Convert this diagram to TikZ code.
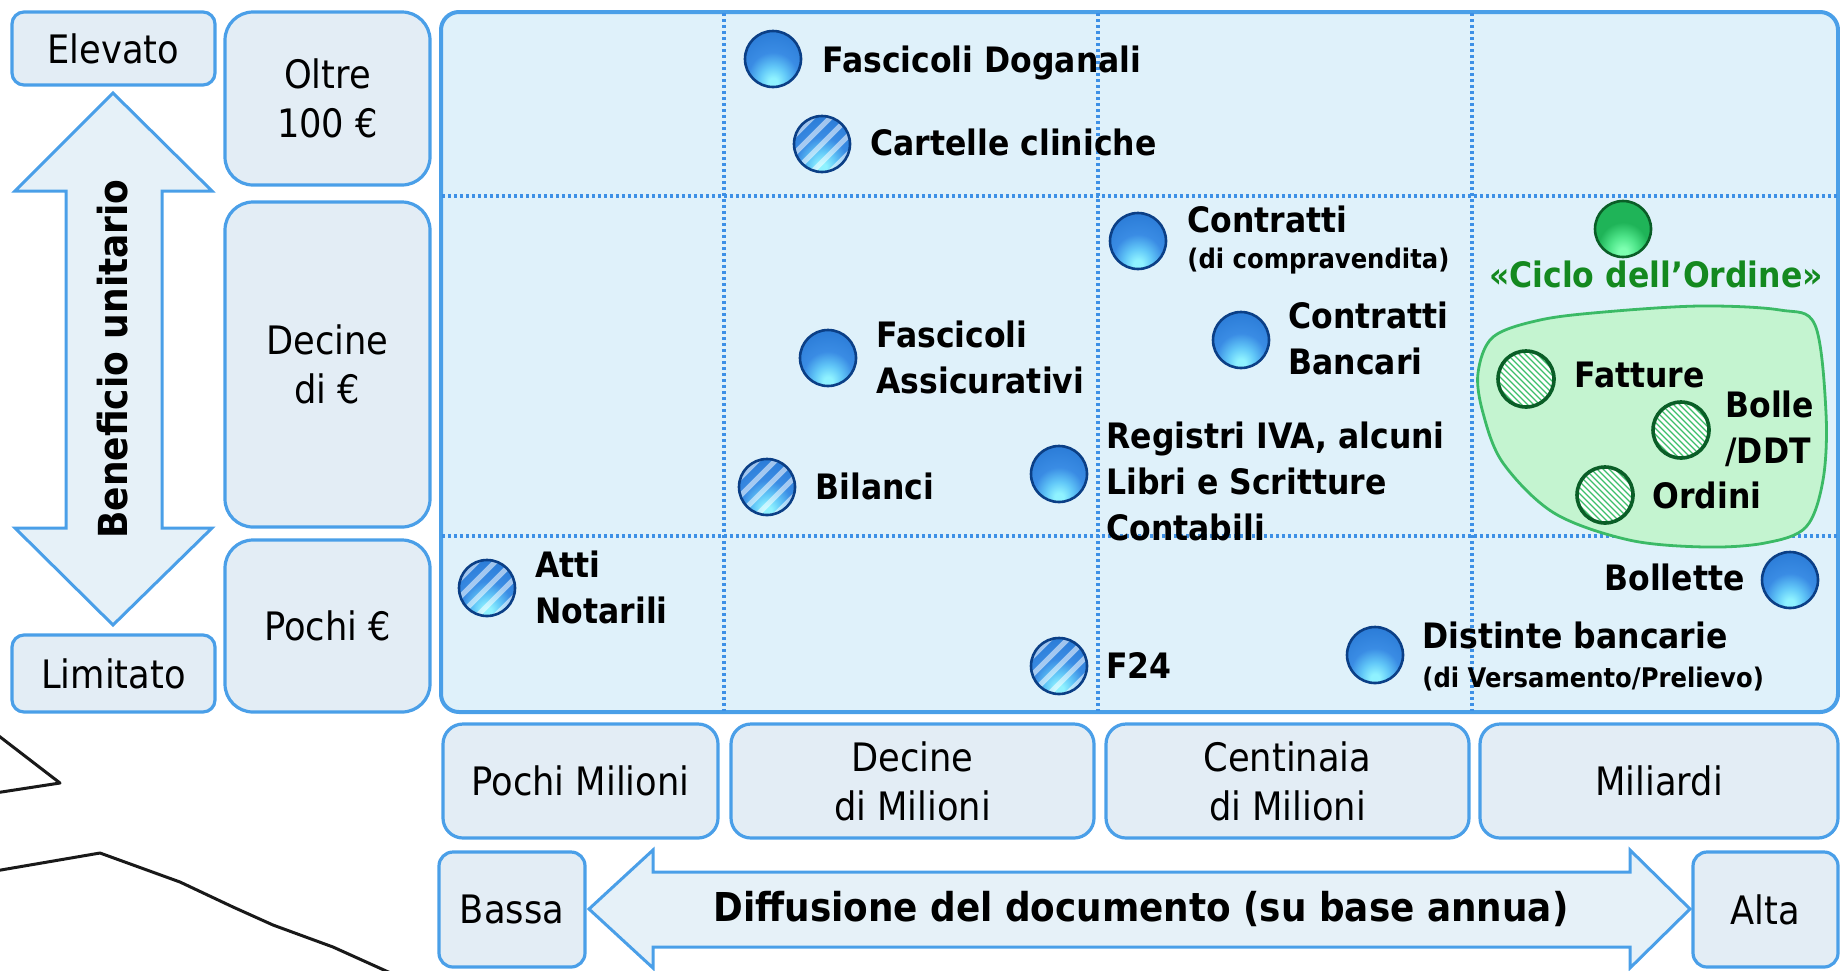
\documentclass[tikz,border=0pt]{standalone}
\usepackage{fontspec}
\setmainfont{DejaVu Sans}[FakeStretch=0.9]
\usetikzlibrary{calc}
\definecolor{bord}{HTML}{4A9FE8}
\definecolor{boxfill}{HTML}{E3EDF5}
\definecolor{panelfill}{HTML}{DFF1FA}
\definecolor{arrowfill}{HTML}{E6F1F8}
\definecolor{gridc}{HTML}{3D90E6}
\definecolor{blobfill}{HTML}{C4F4D0}
\definecolor{blobedge}{HTML}{3BBA66}
\definecolor{greentext}{HTML}{14891F}
\definecolor{bhl}{HTML}{8FF2FF}
\definecolor{bhl2}{HTML}{62C8F8}
\definecolor{bmid}{HTML}{3A8CE4}
\definecolor{bmid2}{HTML}{2C7DD8}
\definecolor{bdark}{HTML}{1A62C0}
\definecolor{bedge}{HTML}{0B3F86}
\definecolor{ghl}{HTML}{7DFFB0}
\definecolor{ghl2}{HTML}{4FE58A}
\definecolor{gmid}{HTML}{1FB458}
\definecolor{gdark}{HTML}{0C7A33}
\definecolor{gedge}{HTML}{0A5E27}
\definecolor{ghatch}{HTML}{3CBF6A}
\pgfdeclareradialshading{blueball}{\pgfpoint{0bp}{-22bp}}{color(0bp)=(bhl);color(4bp)=(bhl);color(12bp)=(bhl2);color(22bp)=(bmid);color(36bp)=(bmid2);color(52bp)=(bdark);color(80bp)=(bdark)}
\pgfdeclareradialshading{greenball}{\pgfpoint{0bp}{-22bp}}{color(0bp)=(ghl);color(4bp)=(ghl);color(12bp)=(ghl2);color(22bp)=(gmid);color(40bp)=(gmid);color(54bp)=(gdark);color(80bp)=(gdark)}
\newcommand\lblfont{\fontsize{19.6}{24.5}\selectfont}
\newcommand\itmfont{\bfseries\fontsize{17.5}{23}\selectfont}
\newcommand\subfont{\bfseries\fontsize{13.5}{16}\selectfont}
\begin{document}
\begin{tikzpicture}[x=0.5pt,y=-0.5pt,
  box/.style={draw=bord, line width=1.6pt, fill=boxfill, inner sep=0pt, align=center, font=\lblfont, text=black},
  panel/.style={draw=bord, line width=2pt, fill=panelfill, rounded corners=9pt, inner sep=0pt},
  gridline/.style={gridc, line width=1.6pt, dash pattern=on 1.4pt off 1.6pt},
  arrowshape/.style={draw=bord, line width=1.5pt, fill=arrowfill, line join=miter},
  ball/.style={circle, minimum size=28pt, inner sep=0pt, line width=1.3pt},
  bball/.style={ball, shading=blueball, draw=bedge},
  hball/.style={bball, path picture={\foreach \k in {-36,-18,0,18,36}{\draw[white,opacity=.55,line width=2.6pt] ($(path picture bounding box.center)+(\k-40,40)$) -- ++(80,-80);}}},
  gball/.style={ball, shading=greenball, draw=gedge},
  ghball/.style={ball, fill=white, draw=gedge, line width=1.8pt, path picture={\foreach \k in {-66,-60,...,66}{\draw[ghatch,line width=0.55pt] ($(path picture bounding box.center)+(\k-40,-40)$) -- ++(80,80);}}},
  itm/.style={font=\itmfont, anchor=base west, align=left, inner sep=0pt},
  sub/.style={font=\subfont, anchor=base west, inner sep=0pt},
  blob/.style={draw=blobedge, line width=1.4pt, fill=blobfill},
  sketch/.style={black, line width=1.5pt, line join=round, opacity=.9}
]
\useasboundingbox (0,0) rectangle (1840,970);
\clip (0,0) rectangle (1840,970);

% sketch lines bottom-left
\draw[sketch] (-5,733) -- (60,783) -- (-5,793);
\draw[sketch] (-5,871) -- (100,853) -- (180,882) -- (233,907) -- (273,925) -- (333,947) -- (395,975);

% left column
\node[box, rounded corners=6pt, minimum width=101.5pt, minimum height=36.5pt] (elev) at (113.5,48.5) {Elevato};
\node[box, rounded corners=6pt, minimum width=101.5pt, minimum height=38.5pt] (limit) at (113.5,673.5) {Limitato};
\draw[arrowshape] (113,93) -- (212,191) -- (162,191) -- (162,528) -- (212,528) -- (113,625) -- (15,528) -- (66,528) -- (66,191) -- (15,191) -- cycle;
\node[font=\bfseries\fontsize{20}{24}\selectfont, rotate=90] (benef) at (113,359) {Beneficio unitario};

% second column
\node[box, rounded corners=14pt, minimum width=102.5pt, minimum height=86.5pt] (oltre) at (327.5,98.5) {Oltre\\100 €};
\node[box, rounded corners=14pt, minimum width=102.5pt, minimum height=162.5pt] (decine) at (327.5,364.5) {Decine\\di €};
\node[box, rounded corners=14pt, minimum width=102.5pt, minimum height=86pt] (pochi) at (327.5,626) {Pochi €};

% main panel
\node[panel, minimum width=698.5pt, minimum height=350pt] (panel) at (1139.5,362) {};
\draw[gridline] (442,196) -- (1837,196);
\draw[gridline] (442,536) -- (1837,536);
\draw[gridline] (724,13) -- (724,711);
\draw[gridline] (1098,13) -- (1098,711);
\draw[gridline] (1472,13) -- (1472,711);

% green group
\draw[blob] plot[smooth cycle, tension=0.55] coordinates {(1478,373) (1493,337) (1540,320) (1604,312) (1700,306) (1780,310) (1815,325) (1826,413) (1823,480) (1806,527) (1765,543) (1705,547) (1629,540) (1554,513) (1503,463) (1483,413)};

% items
\node[bball] (b1) at (773,59) {};
\node[itm] (t1) at (822,72) {Fascicoli Doganali};
\node[hball] (b2) at (822,144) {};
\node[itm] (t2) at (870,155) {Cartelle cliniche};
\node[bball] (b3) at (1138,241) {};
\node[itm] (t3) at (1187,232) {Contratti};
\node[sub] (t3s) at (1187,268) {(di compravendita)};
\node[gball] (b4) at (1623,229) {};
\node[font=\itmfont, text=greentext, anchor=base, inner sep=0pt] (t4) at (1656,287) {«Ciclo dell’Ordine»};
\node[bball] (b5) at (1241,340) {};
\node[itm] (t5) at (1288,374) {Contratti\\Bancari};
\node[bball] (b6) at (828,358) {};
\node[itm] (t6) at (876,393) {Fascicoli\\Assicurativi};
\node[bball] (b7) at (1059,474) {};
\node[itm] (t7) at (1106,540) {Registri IVA, alcuni\\Libri e Scritture\\Contabili};
\node[hball] (b8) at (767,487) {};
\node[itm] (t8) at (815,499) {Bilanci};
\node[ghball] (b9) at (1526,379) {};
\node[itm] (t9) at (1574,387) {Fatture};
\node[ghball] (b10) at (1681,430) {};
\node[itm] (t10) at (1725,463) {Bolle\\/DDT};
\node[ghball] (b11) at (1605,495) {};
\node[itm] (t11) at (1652,508) {Ordini};
\node[bball] (b12) at (1790,580) {};
\node[font=\itmfont, anchor=base east, inner sep=0pt] (t12) at (1745,590) {Bollette};
\node[hball] (b13) at (487,588) {};
\node[itm] (t13) at (535,623) {Atti\\Notarili};
\node[bball] (b14) at (1375,655) {};
\node[itm] (t14) at (1422,648) {Distinte bancarie};
\node[sub] (t14s) at (1422,687) {(di Versamento/Prelievo)};
\node[hball] (b15) at (1059,666) {};
\node[itm] (t15) at (1106,678) {F24};

% bottom row
\node[box, rounded corners=10pt, minimum width=137.5pt, minimum height=57pt] (x1) at (580.5,781) {Pochi Milioni};
\node[box, rounded corners=10pt, minimum width=181.5pt, minimum height=57pt] (x2) at (912.5,781) {Decine\\di Milioni};
\node[box, rounded corners=10pt, minimum width=181.5pt, minimum height=57pt] (x3) at (1287.5,781) {Centinaia\\di Milioni};
\node[box, rounded corners=10pt, minimum width=179pt, minimum height=57pt] (x4) at (1659,781) {Miliardi};
\node[box, rounded corners=7pt, minimum width=73pt, minimum height=57.5pt] (bassa) at (512,909.5) {Bassa};
\node[box, rounded corners=7pt, minimum width=72.5pt, minimum height=57.5pt] (alta) at (1765.5,909.5) {Alta};
\draw[arrowshape] (589,909) -- (653,850) -- (653,872) -- (1630,872) -- (1630,850) -- (1690,909) -- (1630,968) -- (1630,947) -- (653,947) -- (653,968) -- cycle;
\node[font=\bfseries\fontsize{19.9}{24}\selectfont] (diff) at (1141,909) {Diffusione del documento (su base annua)};
\end{tikzpicture}
\end{document}
